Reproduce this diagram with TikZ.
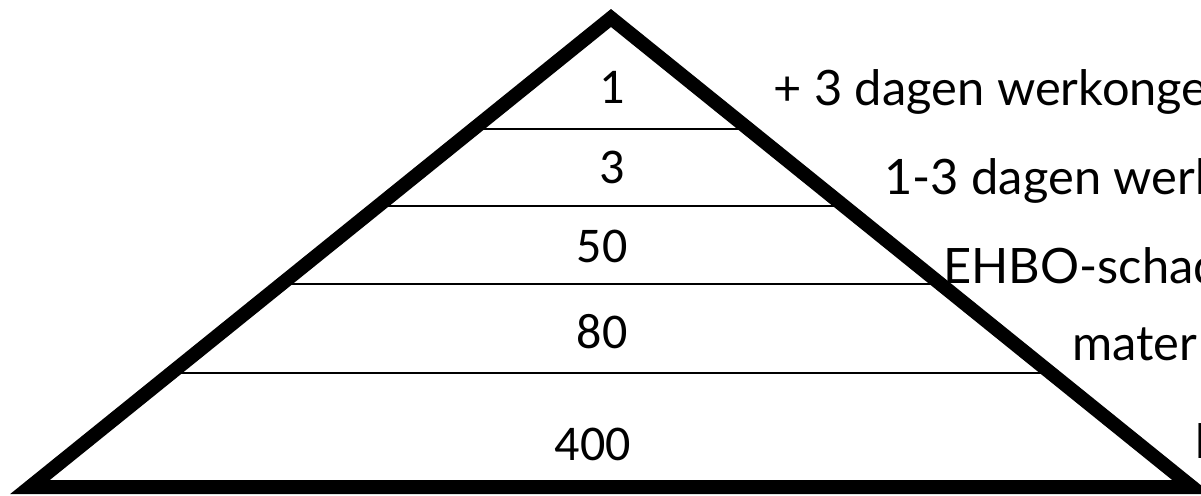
\documentclass[tikz,border=0pt]{standalone}
\usepackage{fontspec}
\setmainfont{Lato}
\newfontfamily\numfont{Carlito}
\usetikzlibrary{calc}
\begin{document}
\begin{tikzpicture}[x=0.5pt,y=-0.5pt,
  edge/.style={line width=7pt, line join=miter},
  layer/.style={line width=1pt},
  num/.style={font=\numfont\fontsize{25}{25}\selectfont, inner sep=0pt, anchor=base},
  lbl/.style={font=\fontsize{24.4}{25}\selectfont, inner sep=0pt, anchor=base west}]
\useasboundingbox (0,0) rectangle (1201,495);
\clip (0,0) rectangle (1201,495);
\coordinate (A) at (611,18);
\coordinate (L) at (30,487);
\coordinate (R) at (1192,487);
% layer separators
\coordinate (l1) at ($(A)!0.2367!(L)$); \coordinate (r1) at ($(A)!0.2367!(R)$);
\coordinate (l2) at ($(A)!0.4009!(L)$); \coordinate (r2) at ($(A)!0.4009!(R)$);
\coordinate (l3) at ($(A)!0.5672!(L)$); \coordinate (r3) at ($(A)!0.5672!(R)$);
\coordinate (l4) at ($(A)!0.7569!(L)$); \coordinate (r4) at ($(A)!0.7569!(R)$);
\draw[layer] (l1) -- (r1);
\draw[layer] (l2) -- (r2);
\draw[layer] (l3) -- (r3);
\draw[layer] (l4) -- (r4);
% pyramid outline
\draw[edge] (L) -- (A) -- (R) -- cycle;
% numbers
\node[num] (n1) at (612,103) {1};
\node[num] (n2) at (612,183) {3};
\node[num] (n3) at (602,262) {50};
\node[num] (n4) at (602,348) {80};
\node[num] (n5) at (593,460) {400};
% labels
\node[lbl] (t1) at (773,105) {+ 3 dagen werkonge};
\node[lbl] (t2) at (884,194) {1-3 dagen werk};
\node[lbl] (t3) at (943,283) {EHBO-schad};
\node[lbl] (t4) at (1072,360) {mater};
\node[lbl] (t5) at (1194,458) {B};
\end{tikzpicture}
\end{document}
